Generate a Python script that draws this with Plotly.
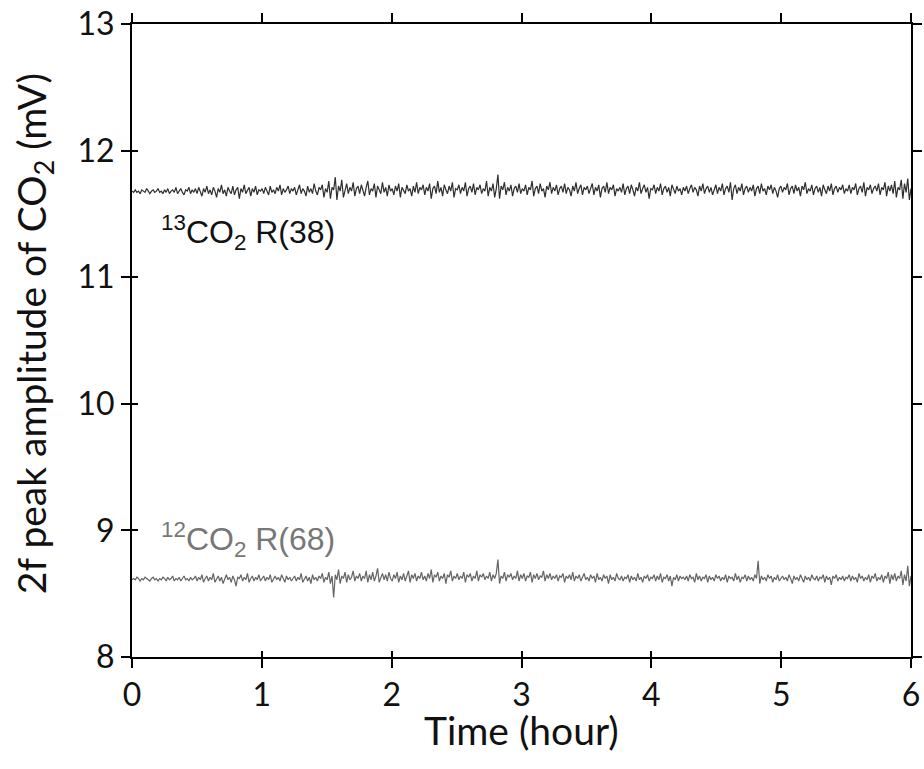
import numpy as np
import plotly.graph_objects as go

# Axis ticks
x_ticks = [0, 1, 2, 3, 4, 5, 6]
y_ticks = [8, 9, 10, 11, 12, 13]

# 13CO2 R(38) 2f peak amplitude (mV) (0-6 h)
co2_13 = [
    11.68, 11.67, 11.69, 11.67, 11.68, 11.66, 11.69, 11.68, 11.67, 11.70, 11.68, 11.66, 11.68, 11.69, 11.67, 11.68, 11.70, 11.67, 11.68, 11.66,
    11.69, 11.67, 11.70, 11.66, 11.68, 11.69, 11.67, 11.71, 11.66, 11.68, 11.70, 11.67, 11.65, 11.69, 11.68, 11.71, 11.66, 11.69, 11.67, 11.70,
    11.66, 11.71, 11.68, 11.64, 11.70, 11.67, 11.72, 11.66, 11.69, 11.65, 11.71, 11.68, 11.63, 11.70, 11.67, 11.73, 11.66, 11.69, 11.64, 11.71,
    11.68, 11.66, 11.72, 11.65, 11.69, 11.71, 11.62, 11.70, 11.67, 11.73, 11.66, 11.68, 11.71, 11.64, 11.70, 11.67, 11.72, 11.65, 11.69, 11.68,
    11.70, 11.66, 11.71, 11.68, 11.65, 11.72, 11.67, 11.69, 11.66, 11.71, 11.68, 11.73, 11.65, 11.70, 11.67, 11.69, 11.72, 11.66, 11.70, 11.68,
    11.71, 11.65, 11.69, 11.73, 11.66, 11.70, 11.68, 11.64, 11.72, 11.67, 11.70, 11.66, 11.74, 11.68, 11.65, 11.71, 11.69, 11.73, 11.63, 11.70,
    11.67, 11.76, 11.62, 11.71, 11.69, 11.79, 11.61, 11.72, 11.68, 11.77, 11.63, 11.70, 11.74, 11.66, 11.71, 11.68, 11.75, 11.64, 11.70, 11.72,
    11.66, 11.73, 11.68, 11.64, 11.71, 11.76, 11.65, 11.70, 11.68, 11.74, 11.63, 11.72, 11.69, 11.66, 11.75, 11.67, 11.71, 11.64, 11.73, 11.68,
    11.70, 11.65, 11.72, 11.68, 11.74, 11.63, 11.71, 11.69, 11.66, 11.73, 11.68, 11.70, 11.64, 11.72, 11.67, 11.75, 11.66, 11.71, 11.69, 11.73,
    11.65, 11.71, 11.68, 11.74, 11.62, 11.70, 11.72, 11.66, 11.76, 11.67, 11.71, 11.64, 11.73, 11.69, 11.66, 11.72, 11.68, 11.75, 11.63, 11.70,
    11.69, 11.73, 11.66, 11.71, 11.68, 11.75, 11.64, 11.70, 11.72, 11.67, 11.74, 11.65, 11.71, 11.69, 11.73, 11.66, 11.70, 11.68, 11.76, 11.64,
    11.71, 11.68, 11.74, 11.63, 11.70, 11.81, 11.62, 11.72, 11.69, 11.75, 11.65, 11.71, 11.68, 11.73, 11.64, 11.70, 11.72, 11.67, 11.74, 11.66,
    11.70, 11.68, 11.73, 11.65, 11.71, 11.69, 11.76, 11.64, 11.70, 11.72, 11.66, 11.74, 11.68, 11.70, 11.63, 11.72, 11.69, 11.75, 11.66, 11.71,
    11.68, 11.73, 11.65, 11.70, 11.72, 11.67, 11.74, 11.66, 11.71, 11.69, 11.64, 11.72, 11.68, 11.75, 11.66, 11.70, 11.73, 11.65, 11.71, 11.69,
    11.72, 11.66, 11.70, 11.74, 11.65, 11.71, 11.68, 11.73, 11.63, 11.70, 11.72, 11.67, 11.75, 11.66, 11.71, 11.69, 11.73, 11.64, 11.70, 11.68,
    11.71, 11.67, 11.74, 11.65, 11.70, 11.72, 11.66, 11.73, 11.69, 11.64, 11.71, 11.68, 11.75, 11.66, 11.70, 11.73, 11.67, 11.71, 11.62, 11.70,
    11.69, 11.73, 11.66, 11.71, 11.68, 11.74, 11.65, 11.70, 11.72, 11.67, 11.71, 11.64, 11.73, 11.69, 11.66, 11.72, 11.68, 11.70, 11.65, 11.71,
    11.68, 11.72, 11.66, 11.70, 11.73, 11.67, 11.71, 11.69, 11.64, 11.72, 11.68, 11.74, 11.66, 11.70, 11.72, 11.67, 11.71, 11.65, 11.69, 11.73,
    11.66, 11.71, 11.68, 11.74, 11.65, 11.70, 11.72, 11.67, 11.75, 11.61, 11.70, 11.73, 11.66, 11.71, 11.68, 11.74, 11.65, 11.70, 11.72, 11.67,
    11.71, 11.68, 11.73, 11.64, 11.70, 11.72, 11.66, 11.74, 11.68, 11.70, 11.65, 11.72, 11.69, 11.73, 11.66, 11.71, 11.68, 11.63, 11.70, 11.72,
    11.67, 11.71, 11.69, 11.74, 11.65, 11.70, 11.72, 11.66, 11.73, 11.68, 11.71, 11.64, 11.72, 11.69, 11.75, 11.66, 11.70, 11.68, 11.73, 11.65,
    11.70, 11.72, 11.67, 11.71, 11.64, 11.73, 11.69, 11.66, 11.72, 11.68, 11.74, 11.65, 11.70, 11.72, 11.67, 11.71, 11.69, 11.73, 11.66, 11.70,
    11.68, 11.73, 11.66, 11.71, 11.69, 11.74, 11.65, 11.70, 11.72, 11.67, 11.75, 11.64, 11.71, 11.69, 11.73, 11.66, 11.70, 11.72, 11.68, 11.74,
    11.65, 11.71, 11.69, 11.75, 11.64, 11.72, 11.68, 11.73, 11.66, 11.76, 11.63, 11.71, 11.69, 11.77, 11.62, 11.74, 11.67, 11.78, 11.61, 11.70,
]

# 12CO2 R(68) 2f peak amplitude (mV) (0-6 h)
co2_12 = [
    8.61, 8.62, 8.61, 8.63, 8.62, 8.60, 8.62, 8.61, 8.63, 8.62, 8.61, 8.60, 8.62, 8.63, 8.61, 8.62, 8.60, 8.62, 8.61, 8.63,
    8.62, 8.60, 8.63, 8.61, 8.62, 8.64, 8.60, 8.62, 8.61, 8.63, 8.60, 8.62, 8.64, 8.61, 8.62, 8.60, 8.63, 8.61, 8.62, 8.64,
    8.60, 8.63, 8.61, 8.65, 8.59, 8.62, 8.64, 8.60, 8.63, 8.61, 8.66, 8.59, 8.62, 8.64, 8.60, 8.63, 8.58, 8.62, 8.65, 8.61,
    8.63, 8.59, 8.64, 8.61, 8.56, 8.63, 8.62, 8.65, 8.60, 8.63, 8.61, 8.66, 8.59, 8.62, 8.64, 8.60, 8.63, 8.61, 8.65, 8.60,
    8.62, 8.64, 8.60, 8.63, 8.61, 8.65, 8.59, 8.62, 8.64, 8.61, 8.63, 8.60, 8.65, 8.62, 8.59, 8.64, 8.61, 8.63, 8.60, 8.62,
    8.64, 8.60, 8.63, 8.61, 8.66, 8.59, 8.62, 8.64, 8.60, 8.63, 8.58, 8.65, 8.61, 8.63, 8.60, 8.64, 8.62, 8.66, 8.59, 8.63,
    8.61, 8.67, 8.58, 8.64, 8.47, 8.65, 8.61, 8.69, 8.58, 8.64, 8.62, 8.67, 8.59, 8.65, 8.61, 8.63, 8.68, 8.60, 8.64, 8.62,
    8.66, 8.60, 8.64, 8.62, 8.68, 8.59, 8.65, 8.61, 8.67, 8.60, 8.64, 8.70, 8.59, 8.63, 8.66, 8.61, 8.65, 8.60, 8.67, 8.62,
    8.60, 8.65, 8.62, 8.67, 8.59, 8.64, 8.61, 8.66, 8.60, 8.64, 8.68, 8.59, 8.65, 8.62, 8.66, 8.60, 8.64, 8.62, 8.67, 8.61,
    8.64, 8.60, 8.66, 8.62, 8.69, 8.59, 8.65, 8.63, 8.67, 8.60, 8.64, 8.62, 8.66, 8.58, 8.65, 8.63, 8.68, 8.60, 8.64, 8.62,
    8.66, 8.61, 8.64, 8.62, 8.67, 8.59, 8.65, 8.63, 8.66, 8.60, 8.64, 8.62, 8.68, 8.60, 8.65, 8.63, 8.66, 8.61, 8.64, 8.62,
    8.67, 8.60, 8.65, 8.62, 8.66, 8.77, 8.58, 8.64, 8.62, 8.67, 8.60, 8.65, 8.63, 8.66, 8.61, 8.64, 8.62, 8.68, 8.60, 8.65,
    8.62, 8.66, 8.60, 8.64, 8.63, 8.67, 8.59, 8.65, 8.62, 8.66, 8.61, 8.64, 8.63, 8.68, 8.60, 8.65, 8.62, 8.66, 8.61, 8.64,
    8.62, 8.65, 8.60, 8.64, 8.63, 8.66, 8.59, 8.64, 8.62, 8.65, 8.61, 8.67, 8.60, 8.64, 8.62, 8.65, 8.60, 8.63, 8.66, 8.61,
    8.63, 8.60, 8.65, 8.62, 8.64, 8.59, 8.66, 8.61, 8.63, 8.60, 8.65, 8.62, 8.64, 8.58, 8.65, 8.61, 8.63, 8.60, 8.66, 8.62,
    8.61, 8.64, 8.60, 8.63, 8.62, 8.65, 8.59, 8.64, 8.61, 8.63, 8.60, 8.66, 8.61, 8.63, 8.59, 8.64, 8.62, 8.65, 8.60, 8.63,
    8.62, 8.65, 8.60, 8.64, 8.61, 8.66, 8.59, 8.63, 8.62, 8.65, 8.60, 8.64, 8.56, 8.63, 8.61, 8.65, 8.60, 8.64, 8.62, 8.63,
    8.61, 8.64, 8.60, 8.65, 8.62, 8.63, 8.59, 8.66, 8.61, 8.64, 8.60, 8.63, 8.62, 8.65, 8.59, 8.64, 8.61, 8.63, 8.60, 8.65,
    8.62, 8.64, 8.60, 8.63, 8.61, 8.65, 8.59, 8.64, 8.62, 8.63, 8.60, 8.66, 8.61, 8.64, 8.59, 8.63, 8.62, 8.65, 8.60, 8.64,
    8.61, 8.63, 8.60, 8.65, 8.62, 8.76, 8.58, 8.64, 8.61, 8.63, 8.60, 8.65, 8.62, 8.64, 8.59, 8.63, 8.61, 8.65, 8.60, 8.62,
    8.64, 8.61, 8.63, 8.60, 8.65, 8.62, 8.58, 8.64, 8.61, 8.63, 8.60, 8.65, 8.62, 8.59, 8.64, 8.61, 8.63, 8.60, 8.65, 8.62,
    8.61, 8.64, 8.60, 8.63, 8.62, 8.65, 8.59, 8.64, 8.61, 8.63, 8.57, 8.64, 8.62, 8.65, 8.60, 8.63, 8.61, 8.64, 8.60, 8.63,
    8.62, 8.65, 8.60, 8.64, 8.61, 8.63, 8.59, 8.66, 8.62, 8.64, 8.60, 8.63, 8.61, 8.65, 8.59, 8.64, 8.62, 8.66, 8.60, 8.63,
    8.61, 8.65, 8.59, 8.64, 8.62, 8.67, 8.58, 8.65, 8.61, 8.66, 8.60, 8.64, 8.62, 8.68, 8.57, 8.65, 8.60, 8.72, 8.56, 8.64,
]

time_h = np.linspace(0, 6, len(co2_13))

fig = go.Figure()
fig.add_trace(go.Scatter(x=time_h, y=co2_13, mode="lines",
                         line=dict(color="#2e2e2e", width=1.2), showlegend=False))
fig.add_trace(go.Scatter(x=time_h, y=co2_12, mode="lines",
                         line=dict(color="#646464", width=1.2), showlegend=False))
# invisible trace for the overlay axes (inner half of crossing ticks)
fig.add_trace(go.Scatter(x=[0], y=[8], xaxis="x2", yaxis="y2", mode="markers",
                         marker=dict(opacity=0), showlegend=False, hoverinfo="skip"))

tick_font = dict(family="Lato, Open Sans, sans-serif", size=32, color="#111")

fig.update_layout(
    width=924, height=769,
    margin=dict(l=132, r=13, t=24, b=112, autoexpand=False),
    paper_bgcolor="white", plot_bgcolor="white",
    xaxis=dict(range=[0, 6], tickvals=x_ticks, ticks="outside", ticklen=9, tickwidth=2,
               tickcolor="black", showline=True, linecolor="black", linewidth=2,
               mirror="allticks", showgrid=False, zeroline=False, automargin=False,
               tickfont=tick_font),
    yaxis=dict(range=[8, 13], tickvals=y_ticks, ticks="outside", ticklen=9, tickwidth=2,
               tickcolor="black", showline=True, linecolor="black", linewidth=2,
               mirror="allticks", showgrid=False, zeroline=False, automargin=False,
               tickfont=tick_font),
    xaxis2=dict(range=[0, 6], tickvals=x_ticks, ticks="inside", ticklen=6, tickwidth=2,
                tickcolor="black", showline=False, showgrid=False, zeroline=False, automargin=False,
                showticklabels=False, overlaying="x", anchor="y2", side="bottom"),
    yaxis2=dict(range=[8, 13], tickvals=y_ticks, ticks="inside", ticklen=6, tickwidth=2,
                tickcolor="black", showline=False, showgrid=False, zeroline=False, automargin=False,
                showticklabels=False, overlaying="y", anchor="x2", side="left"),
)

# axis titles
fig.add_annotation(x=0.5, y=0, xref="paper", yref="paper", xanchor="center", yanchor="top",
                   yshift=-49, text="Time (hour)", showarrow=False, borderpad=0,
                   font=dict(family="Lato, Open Sans, sans-serif", size=39, color="#111"))
fig.add_annotation(x=0, y=0.51, xref="paper", yref="paper", xanchor="center", yanchor="middle",
                   xshift=-98, textangle=-90, text="2f peak amplitude of CO<sub>2</sub> (mV)",
                   showarrow=False,
                   font=dict(family="Lato, Open Sans, sans-serif", size=39, color="#111"))

# series labels
fig.add_annotation(x=0.89, y=11.35, xref="x", yref="y",
                   text="<sup>13</sup>CO<sub>2</sub> R(38)", showarrow=False,
                   font=dict(family="Liberation Sans, Arial, sans-serif", size=32, color="#111"))
fig.add_annotation(x=0.89, y=8.93, xref="x", yref="y",
                   text="<sup>12</sup>CO<sub>2</sub> R(68)", showarrow=False,
                   font=dict(family="Liberation Sans, Arial, sans-serif", size=32, color="#777"))

fig.write_html("out.html", config={"displayModeBar": False},
               post_script="document.body.style.margin='0';document.body.style.overflow='hidden';")
